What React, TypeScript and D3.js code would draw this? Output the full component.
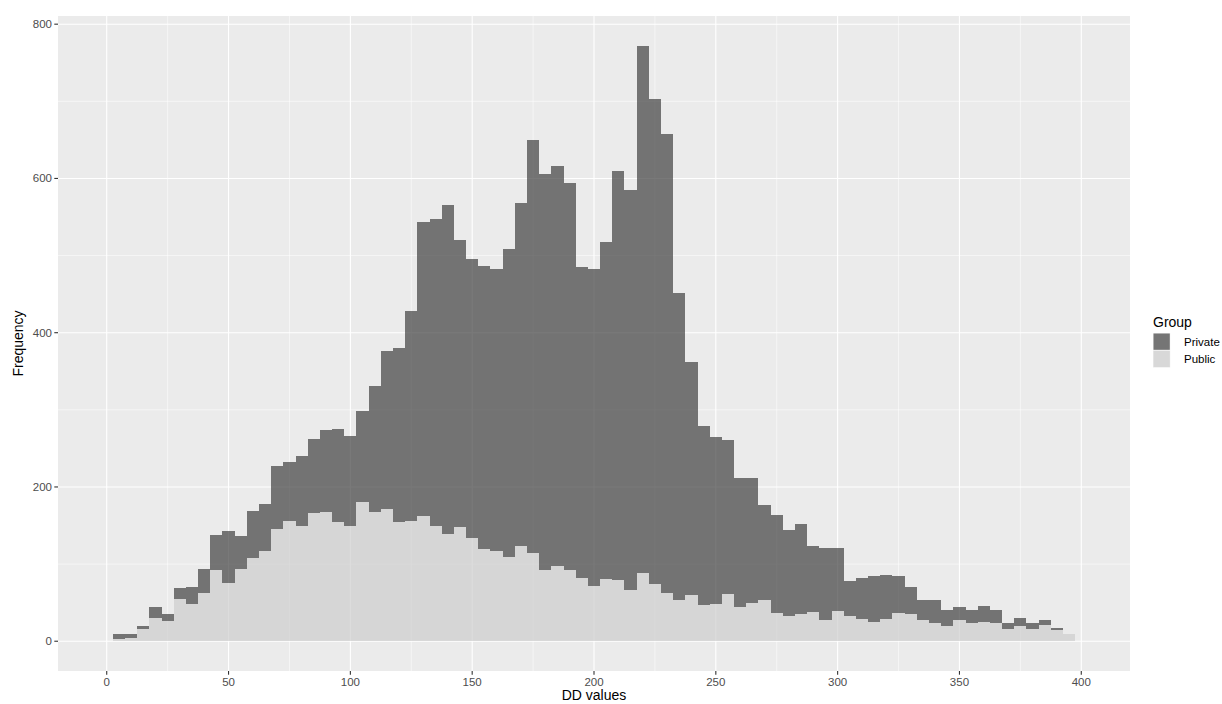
import React from 'react';
import * as d3 from 'd3';

// bin centres (binwidth 5)
const binCenters = d3.range(5, 400, 5);

// stacked totals (Private + Public)
const totalCounts = [
  10, 10, 20, 45, 35, 69, 70, 93, 138, 143,
  136, 169, 178, 227, 233, 240, 262, 274, 275, 266,
  298, 331, 376, 380, 428, 544, 548, 566, 520, 495,
  487, 482, 509, 568, 650, 606, 616, 594, 485, 483,
  517, 610, 585, 772, 703, 657, 451, 362, 279, 265,
  261, 212, 212, 176, 164, 144, 152, 123, 121, 121,
  78, 82, 84, 86, 84, 70, 53, 53, 41, 44,
  40, 46, 41, 24, 30, 23, 27, 17, 10,
];

const publicCounts = [
  3, 4, 16, 30, 26, 55, 48, 63, 92, 75,
  93, 108, 117, 146, 156, 150, 166, 168, 155, 149,
  181, 168, 172, 154, 156, 163, 149, 139, 148, 134,
  119, 117, 109, 123, 115, 92, 97, 92, 82, 72,
  81, 80, 66, 88, 74, 62, 54, 60, 47, 48,
  61, 45, 50, 53, 36, 33, 35, 38, 28, 39,
  33, 29, 25, 29, 37, 35, 27, 23, 20, 28,
  23, 25, 23, 16, 20, 16, 21, 14, 9,
];

const privateCounts = totalCounts.map((t, i) => t - publicCounts[i]);

const groups = ['Private', 'Public'];
const groupColors = { Private: '#404040', Public: '#cdcdcd' };

const xTicks = [0, 50, 100, 150, 200, 250, 300, 350, 400];
const xMinor = [25, 75, 125, 175, 225, 275, 325, 375];
const yTicks = [0, 200, 400, 600, 800];
const yMinor = [100, 300, 500, 700];

const font = '"Liberation Sans", Arial, sans-serif';

export default function App() {
  const width = 1222;
  const height = 704;
  const panel = { left: 58, right: 1130, top: 16, bottom: 671 };

  const rows = binCenters.map((c, i) => ({
    center: c,
    Public: publicCounts[i],
    Private: privateCounts[i],
  }));

  // public at the bottom, private stacked on top
  const stacked = d3.stack().keys(['Public', 'Private'])(rows as any);

  const xExt = [0, 400];
  const xPad = (xExt[1] - xExt[0]) * 0.05;
  const x = d3.scaleLinear()
    .domain([xExt[0] - xPad, xExt[1] + xPad])
    .range([panel.left, panel.right]);

  const yMax = d3.max(totalCounts) as number;
  const y = d3.scaleLinear()
    .domain([-yMax * 0.05, yMax * 1.05])
    .range([panel.bottom, panel.top]);

  const half = 2.5;

  return (
    <svg width={width} height={height} style={{ position: 'absolute', left: 0, top: 0, background: '#fff' }}
      fontFamily={font}>
      <rect x={panel.left} y={panel.top} width={panel.right - panel.left}
        height={panel.bottom - panel.top} fill="#ebebeb" />

      {/* grid */}
      {yMinor.map(v => (
        <line key={'ym' + v} x1={panel.left} x2={panel.right} y1={y(v)} y2={y(v)}
          stroke="#fff" strokeWidth={0.55} />
      ))}
      {xMinor.map(v => (
        <line key={'xm' + v} x1={x(v)} x2={x(v)} y1={panel.top} y2={panel.bottom}
          stroke="#fff" strokeWidth={0.55} />
      ))}
      {yTicks.map(v => (
        <line key={'yg' + v} x1={panel.left} x2={panel.right} y1={y(v)} y2={y(v)}
          stroke="#fff" strokeWidth={1.1} />
      ))}
      {xTicks.map(v => (
        <line key={'xg' + v} x1={x(v)} x2={x(v)} y1={panel.top} y2={panel.bottom}
          stroke="#fff" strokeWidth={1.1} />
      ))}

      {/* bars */}
      {stacked.map(layer => (
        <g key={layer.key} fill={groupColors[layer.key]} fillOpacity={0.7} shapeRendering="crispEdges">
          {layer.map((d: any) => (
            <rect key={d.data.center}
              x={x(d.data.center - half)}
              width={x(d.data.center + half) - x(d.data.center - half)}
              y={y(d[1])}
              height={Math.max(0, y(d[0]) - y(d[1]))} />
          ))}
        </g>
      ))}

      {/* y axis */}
      {yTicks.map(v => (
        <g key={'yt' + v}>
          <line x1={panel.left - 3.7} x2={panel.left} y1={y(v)} y2={y(v)} stroke="#333" strokeWidth={1.1} />
          <text x={panel.left - 6} y={y(v)} dy="0.35em" textAnchor="end" fontSize={11.5} fill="#4d4d4d">{v}</text>
        </g>
      ))}

      {/* x axis */}
      {xTicks.map(v => (
        <g key={'xt' + v}>
          <line x1={x(v)} x2={x(v)} y1={panel.bottom} y2={panel.bottom + 3.7} stroke="#333" strokeWidth={1.1} />
          <text x={x(v)} y={panel.bottom + 7} dy="0.71em" textAnchor="middle" fontSize={11.5} fill="#4d4d4d">{v}</text>
        </g>
      ))}

      <text x={(panel.left + panel.right) / 2} y={700} textAnchor="middle" fontSize={14} fill="#000">DD values</text>
      <text transform={`translate(18,${(panel.top + panel.bottom) / 2}) rotate(-90)`} dy="0.35em"
        textAnchor="middle" fontSize={14} fill="#000">Frequency</text>

      {/* legend */}
      <g transform="translate(1153,314)">
        <text x={0} y={8} dy="0.35em" fontSize={14} fill="#000">Group</text>
        {groups.map((g, i) => (
          <g key={g} transform={`translate(0,${19 + i * 17.3})`}>
            <rect width={17.3} height={17.3} fill="#f2f2f2" />
            <rect x={0.5} y={0.5} width={16.3} height={16.3} fill={groupColors[g]} fillOpacity={0.7} />
            <text x={31} y={8.65} dy="0.35em" fontSize={11.5} fill="#000">{g}</text>
          </g>
        ))}
      </g>
    </svg>
  );
}
